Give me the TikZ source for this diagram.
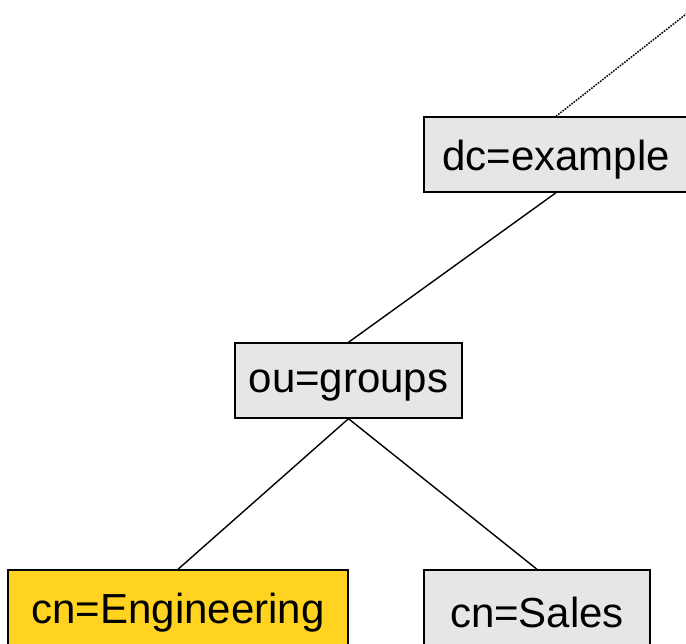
\documentclass[tikz,border=0pt]{standalone}
\usepackage{fontspec}
\setmainfont{Liberation Sans}
\definecolor{boxgray}{HTML}{E6E6E6}
\definecolor{boxyellow}{HTML}{FFD320}
\newcommand{\lowtext}[1]{\raisebox{-5pt}[\height][\depth]{#1}}
\begin{document}
\begin{tikzpicture}[x=1pt,y=1pt,
  entry/.style={draw=black, line width=1.4pt, fill=boxgray, rectangle, inner sep=0pt,
    minimum height=75pt, font=\fontsize{42}{48}\selectfont},
  link/.style={draw=black, line width=1.4pt}]
\useasboundingbox (0,0) rectangle (686,-644);
\clip (0,0) rectangle (686,-644);
\node[entry, minimum width=264pt] (dc) at (556,-154.5) {\lowtext{dc=example}};
\node[entry, minimum width=227pt] (ou) at (348.5,-380.5) {\lowtext{ou=groups}};
\node[entry, minimum width=340pt, fill=boxyellow] (eng) at (178,-607.5) {\lowtext{cn=Engineering}};
\node[entry, minimum width=226pt] (sales) at (537,-607.5) {\lowtext{cn=Sales}};
\coordinate (up) at (704,0);
\draw[link] (dc.south) -- (ou.north);
\draw[link] (ou.south) -- (eng.north);
\draw[link] (ou.south) -- (sales.north);
\draw[black, line width=1.5pt, dash pattern=on 1.6pt off 1.2pt] (dc.north) -- (up);
\end{tikzpicture}
\end{document}
